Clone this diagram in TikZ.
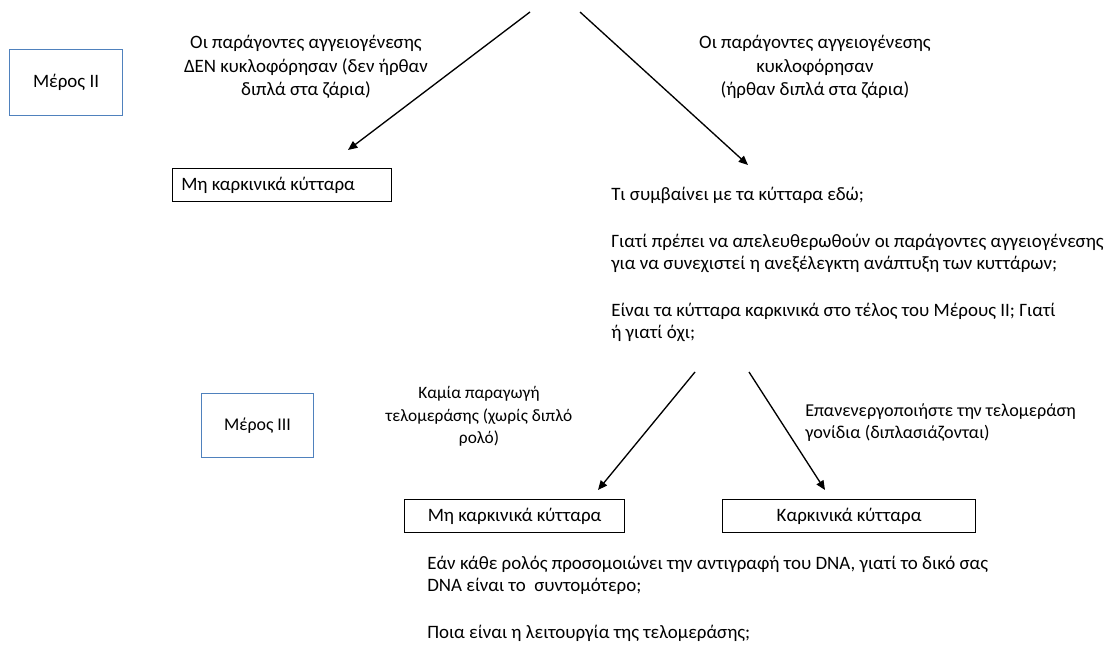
\documentclass[tikz,border=0pt]{standalone}
\usepackage{fontspec}
\setmainfont{Carlito}
\usetikzlibrary{arrows.meta}
\definecolor{boxblue}{HTML}{4F81BD}
\tikzset{
  txt/.style={inner sep=0pt, font=\fontsize{14.2}{16.5}\selectfont},
  lbl/.style={inner sep=0pt, font=\fontsize{14.2}{17.6}\selectfont},
  blackbox/.style={draw=black, line width=0.9pt, inner sep=0pt},
  bluebox/.style={draw=boxblue, line width=0.8pt, inner sep=0pt},
  arr/.style={line width=1pt, -{Triangle[length=7pt,width=6pt]}}
}
\begin{document}
\begin{tikzpicture}[x=0.75pt,y=-0.75pt]
\useasboundingbox (0,0) rectangle (1108,649);
% top arrows
\coordinate (t1) at (530,12);
\coordinate (t2) at (580,12);
\coordinate (a1) at (348,150);
\coordinate (a2) at (748,165);
\draw[arr] (t1) -- (a1);
\draw[arr] (t2) -- (a2);
% Meros II
\node[bluebox, minimum width=84.75pt, minimum height=49.5pt, anchor=north west] (m2) at (9,49) {};
\node[txt] (m2t) at (m2.center) {Μέρος ΙΙ};
% left label
\node[lbl, align=center, anchor=north] (l1) at (306,35) {Οι παράγοντες αγγειογένεσης\\ΔΕΝ κυκλοφόρησαν (δεν ήρθαν\\διπλά στα ζάρια)};
% right label
\node[lbl, align=center, anchor=north] (r1) at (815,35) {Οι παράγοντες αγγειογένεσης\\κυκλοφόρησαν\\(ήρθαν διπλά στα ζάρια)};
% box non-cancer top
\node[blackbox, minimum width=164.25pt, minimum height=24.75pt, anchor=north west] (b1) at (172,168) {};
\node[txt, anchor=west] (b1t) at (181,185) {Μη καρκινικά κύτταρα};
% question block
\node[txt, align=left, anchor=north west] (q1) at (611,187) {Τι συμβαίνει με τα κύτταρα εδώ;\\[18.75pt]Γιατί πρέπει να απελευθερωθούν οι παράγοντες αγγειογένεσης\\για να συνεχιστεί η ανεξέλεγκτη ανάπτυξη των κυττάρων;\\[18.75pt]Είναι τα κύτταρα καρκινικά στο τέλος του Μέρους ΙΙ; Γιατί\\ή γιατί όχι;};
% middle arrows
\coordinate (s1) at (695,372);
\coordinate (s2) at (749,372);
\coordinate (e1) at (598,490);
\coordinate (e2) at (825,490);
\draw[arr] (s1) -- (e1);
\draw[arr] (s2) -- (e2);
% Meros III
\node[bluebox, minimum width=84pt, minimum height=48pt, anchor=north west] (m3) at (201,393) {};
\node[txt, font=\fontsize{13.4}{16.5}\selectfont] (m3t) at (m3.center) {Μέρος ΙΙΙ};
% labels
\node[txt, align=center, anchor=north, font=\fontsize{13}{17}\selectfont] (l2) at (479,386) {Καμία παραγωγή\\τελομεράσης (χωρίς διπλό\\ρολό)};
\node[txt, align=left, anchor=north west, font=\fontsize{13.6}{17}\selectfont] (r2) at (805,403) {Επανενεργοποιήστε την τελομεράση\\γονίδια (διπλασιάζονται)};
% bottom boxes
\node[blackbox, minimum width=165pt, minimum height=24.75pt, anchor=north west] (b2) at (404,499) {};
\node[txt] (b2t) at (b2.center) {Μη καρκινικά κύτταρα};
\node[blackbox, minimum width=189.75pt, minimum height=24.75pt, anchor=north west] (b3) at (722,499) {};
\node[txt] (b3t) at (b3.center) {Καρκινικά κύτταρα};
% bottom questions
\node[txt, align=left, anchor=north west] (q2) at (427,556) {Εάν κάθε ρολός προσομοιώνει την αντιγραφή του DNA, γιατί το δικό σας\\DNA είναι το \ συντομότερο;\\[18.75pt]Ποια είναι η λειτουργία της τελομεράσης;};
\end{tikzpicture}
\end{document}
